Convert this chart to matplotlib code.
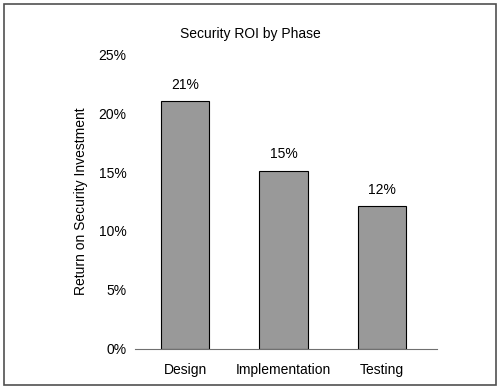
import matplotlib.pyplot as plt
from matplotlib.patches import Rectangle
from matplotlib.ticker import FuncFormatter

plt.rcParams['font.family'] = ['Liberation Sans', 'DejaVu Sans']

phases = ["Design", "Implementation", "Testing"]
roi = [21.0, 15.1, 12.1]
roi_labels = ["21%", "15%", "12%"]

fig = plt.figure(figsize=(5.0, 3.89), dpi=100)
ax = fig.add_axes([0.27, 0.103, 0.604, 0.758])

x = range(len(phases))
bars = ax.bar(x, roi, width=0.49, color="#999999", edgecolor="black", linewidth=0.8)
for b, lab in zip(bars, roi_labels):
    ax.text(b.get_x() + b.get_width() / 2, b.get_height() + 0.8, lab,
            ha="center", va="bottom", fontsize=10)

ax.set_xlim(-0.51, 2.56)
ax.set_ylim(0, 25)
ax.set_yticks([0, 5, 10, 15, 20, 25])
ax.yaxis.set_major_formatter(FuncFormatter(lambda v, p: "%d%%" % v))
ax.set_xticks(list(x))
ax.set_xticklabels(phases)
ax.tick_params(length=0, labelsize=10)
ax.tick_params(axis="x", pad=10)
ax.tick_params(axis="y", pad=6)
for s in ["top", "right", "left"]:
    ax.spines[s].set_visible(False)
ax.spines["bottom"].set_color("#707070")
ax.set_ylabel("Return on Security Investment", fontsize=10)
ax.yaxis.set_label_coords(-0.155, 0.5)
fig.text(0.5, 0.913, "Security ROI by Phase", ha="center", va="center", fontsize=10)

fig.patches.append(Rectangle((4 / 500, 4 / 389), 492 / 500, 381 / 389, transform=fig.transFigure,
                             fill=False, edgecolor="#505050", linewidth=1.2))

fig.savefig("out.png", dpi=100)
